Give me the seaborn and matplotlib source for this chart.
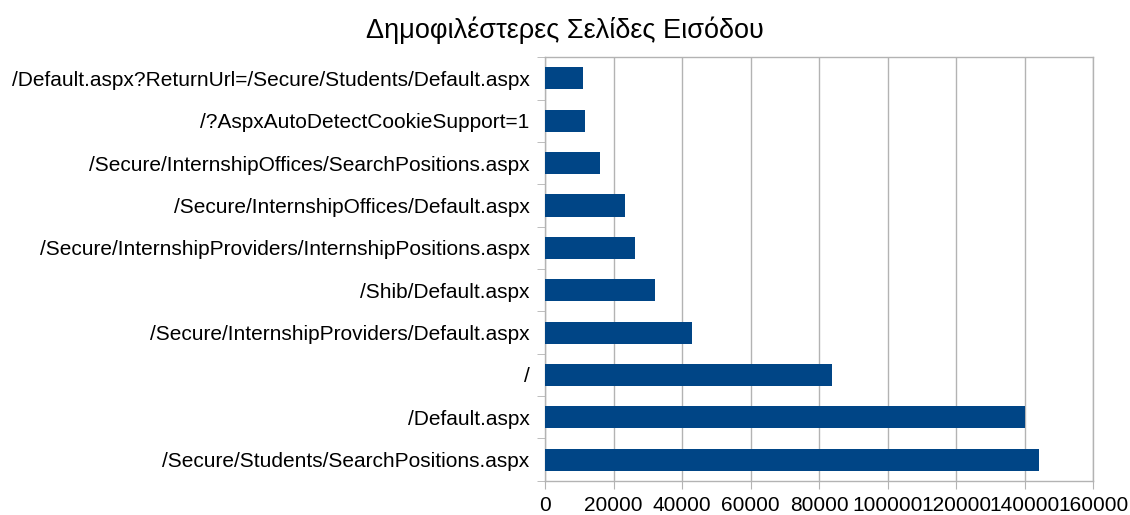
import matplotlib.pyplot as plt
import numpy as np
import pandas as pd
import seaborn as sns
from matplotlib.ticker import MultipleLocator, FixedLocator

pages = ['/Default.aspx?ReturnUrl=/Secure/Students/Default.aspx',
         '/?AspxAutoDetectCookieSupport=1',
         '/Secure/InternshipOffices/SearchPositions.aspx',
         '/Secure/InternshipOffices/Default.aspx',
         '/Secure/InternshipProviders/InternshipPositions.aspx',
         '/Shib/Default.aspx',
         '/Secure/InternshipProviders/Default.aspx',
         '/',
         '/Default.aspx',
         '/Secure/Students/SearchPositions.aspx']
visits = [11000, 11600, 16200, 23500, 26400, 32100, 42900, 83700, 140000, 144100]
x_max = 160000
x_step = 20000
title = 'Δημοφιλέστερες Σελίδες Εισόδου'

sns.set_style('white')
plt.rcParams['font.family'] = ['Liberation Sans', 'DejaVu Sans']

df = pd.DataFrame({'page': pages, 'visits': visits})

fig = plt.figure(figsize=(11.3, 5.15), dpi=100)
ax = fig.add_axes([0.4823, 0.0666, 0.4850, 0.8221])
sns.barplot(data=df, x='visits', y='page', orient='h', color='#004586',
            saturation=1, width=0.52, linewidth=0, ax=ax, zorder=3)

grid_c = '#b3b3b3'
ax.set_xlim(0, x_max)
ax.set_ylim(len(pages) - 0.5, -0.5)
ax.xaxis.set_major_locator(MultipleLocator(x_step))
ax.grid(axis='x', color=grid_c, lw=1, zorder=0)
for sp in ax.spines.values():
    sp.set_color(grid_c)
    sp.set_linewidth(1)

ax.tick_params(axis='x', which='major', direction='out', length=6, color=grid_c,
               labelsize=15, labelcolor='black', pad=5, bottom=True)
ax.tick_params(axis='y', which='major', length=0, labelsize=15, labelcolor='black', pad=11)
ax.yaxis.set_minor_locator(FixedLocator(np.arange(len(pages) + 1) - 0.5))
ax.tick_params(axis='y', which='minor', direction='out', length=6, color=grid_c, left=True)
ax.set_xlabel('')
ax.set_ylabel('')
fig.text(0.5, 0.926, title, ha='center', va='baseline', fontsize=19.5, color='black')

plt.savefig('out.png')
